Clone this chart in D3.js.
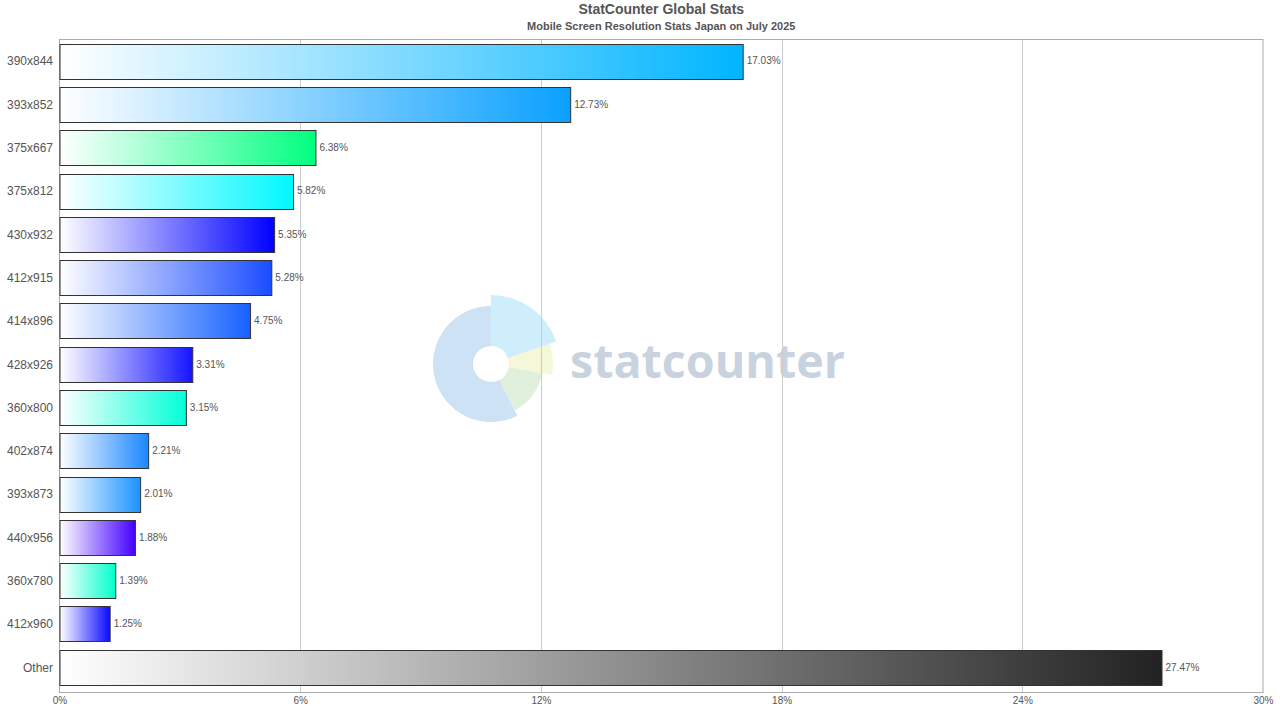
<!DOCTYPE html>
<html><head><meta charset="utf-8">
<script src="https://cdn.jsdelivr.net/npm/d3@7"></script>
<style>html,body{margin:0;padding:0;background:#fff;}svg{display:block;font-family:"Liberation Sans",Arial,Helvetica,sans-serif;}</style>
</head><body>
<svg id="chart" width="1280" height="720"></svg>
<script>
const categories = ["390x844","393x852","375x667","375x812","430x932","412x915","414x896","428x926","360x800","402x874","393x873","440x956","360x780","412x960","Other"];
const values = [17.03,12.73,6.38,5.82,5.35,5.28,4.75,3.31,3.15,2.21,2.01,1.88,1.39,1.25,27.47];
const barColors = ["#00b5ff","#0aa0ff","#00ff80","#00f8ff","#0000ff","#1a4cff","#1560ff","#1414ff","#00ffd8","#1a86ff","#1a92ff","#4400ff","#00ffcc","#0a0aff","#222222"];
const xTicks = [0,6,12,18,24,30];
const title = "StatCounter Global Stats";
const subtitle = "Mobile Screen Resolution Stats Japan on July 2025";

const svg = d3.select("#chart");
const m = {left:59.5, right:1263, top:39, bottom:692};
const cx = (m.left+m.right)/2;

svg.append("text").attr("x",cx).attr("y",14).attr("text-anchor","middle")
  .attr("font-size",14).attr("font-weight","bold").attr("fill","#555").text(title);
svg.append("text").attr("x",cx).attr("y",30).attr("text-anchor","middle")
  .attr("font-size",11).attr("font-weight","bold").attr("fill","#555").text(subtitle);

const x = d3.scaleLinear().domain([0,30]).range([m.left,m.right]);
const y = d3.scaleBand().domain(categories).range([39,689]).paddingInner(0.2).paddingOuter(0.108);

// watermark
const wm = svg.append("g").attr("transform","translate(491,364)");
const deg = Math.PI/180;
const slices = [
  {a0:0,a1:71,r:69,c:"#cdeefa"},
  {a0:71,a1:100,r:62,c:"#f4f8d9"},
  {a0:100,a1:153,r:52,c:"#e1f0dc"},
  {a0:153,a1:360,r:58,c:"#cde2f4"}
];
const arc = d3.arc();
slices.forEach(s=>{
  wm.append("path").attr("d",arc({innerRadius:18,outerRadius:s.r,startAngle:s.a0*deg,endAngle:s.a1*deg})).attr("fill",s.c);
});
svg.append("text").attr("x",570).attr("y",378).attr("font-family","'Open Sans',sans-serif")
  .attr("font-weight","bold").attr("font-size",46).attr("fill","#c9d3df")
  .attr("textLength",275).attr("lengthAdjust","spacingAndGlyphs").text("statcounter");

// grid
svg.append("g").selectAll("line").data(xTicks.slice(1,-1)).join("line")
  .attr("x1",d=>Math.round(x(d))+0.5).attr("x2",d=>Math.round(x(d))+0.5)
  .attr("y1",m.top).attr("y2",m.bottom).attr("stroke","#ccc").attr("stroke-width",1);

// frame
svg.append("rect").attr("x",m.left).attr("y",m.top+0.5).attr("width",m.right-m.left).attr("height",m.bottom-m.top)
  .attr("fill","none").attr("stroke","#aaa").attr("stroke-width",1);

// gradients
const defs = svg.append("defs");
barColors.forEach((c,i)=>{
  const g = defs.append("linearGradient").attr("id","g"+i).attr("x1","0").attr("x2","1").attr("y1","0").attr("y2","0");
  g.append("stop").attr("offset","0").attr("stop-color","#ffffff");
  g.append("stop").attr("offset","1").attr("stop-color",c);
});

const rows = categories.map((c,i)=>({c, v:values[i], i}));
svg.append("g").selectAll("rect").data(rows).join("rect")
  .attr("x",x(0)+0.5).attr("y",d=>Math.round(y(d.c))+0.5)
  .attr("width",d=>x(d.v)-x(0)).attr("height",Math.round(y.bandwidth()))
  .attr("fill",d=>`url(#g${d.i})`).attr("stroke","#333").attr("stroke-width",1);

svg.append("g").selectAll("text").data(rows).join("text")
  .attr("x",d=>x(d.v)+4).attr("y",d=>y(d.c)+y.bandwidth()/2+3.5)
  .attr("font-size",10).attr("fill","#555").text(d=>d.v.toFixed(2)+"%");

// category labels
svg.append("g").selectAll("text").data(rows).join("text")
  .attr("x",53).attr("y",d=>y(d.c)+y.bandwidth()/2+4.5).attr("text-anchor","end")
  .attr("font-size",12).attr("fill","#555").text(d=>d.c);

// x axis labels
const ax = svg.append("g").attr("transform",`translate(0,${m.bottom})`)
  .call(d3.axisBottom(x).tickValues(xTicks).tickFormat(d=>d+"%").tickSize(0).tickPadding(5));
ax.select(".domain").remove();
ax.selectAll("text").attr("font-size",10).attr("fill","#555").attr("font-family","'Liberation Sans',Arial,sans-serif");
</script>
</body></html>
